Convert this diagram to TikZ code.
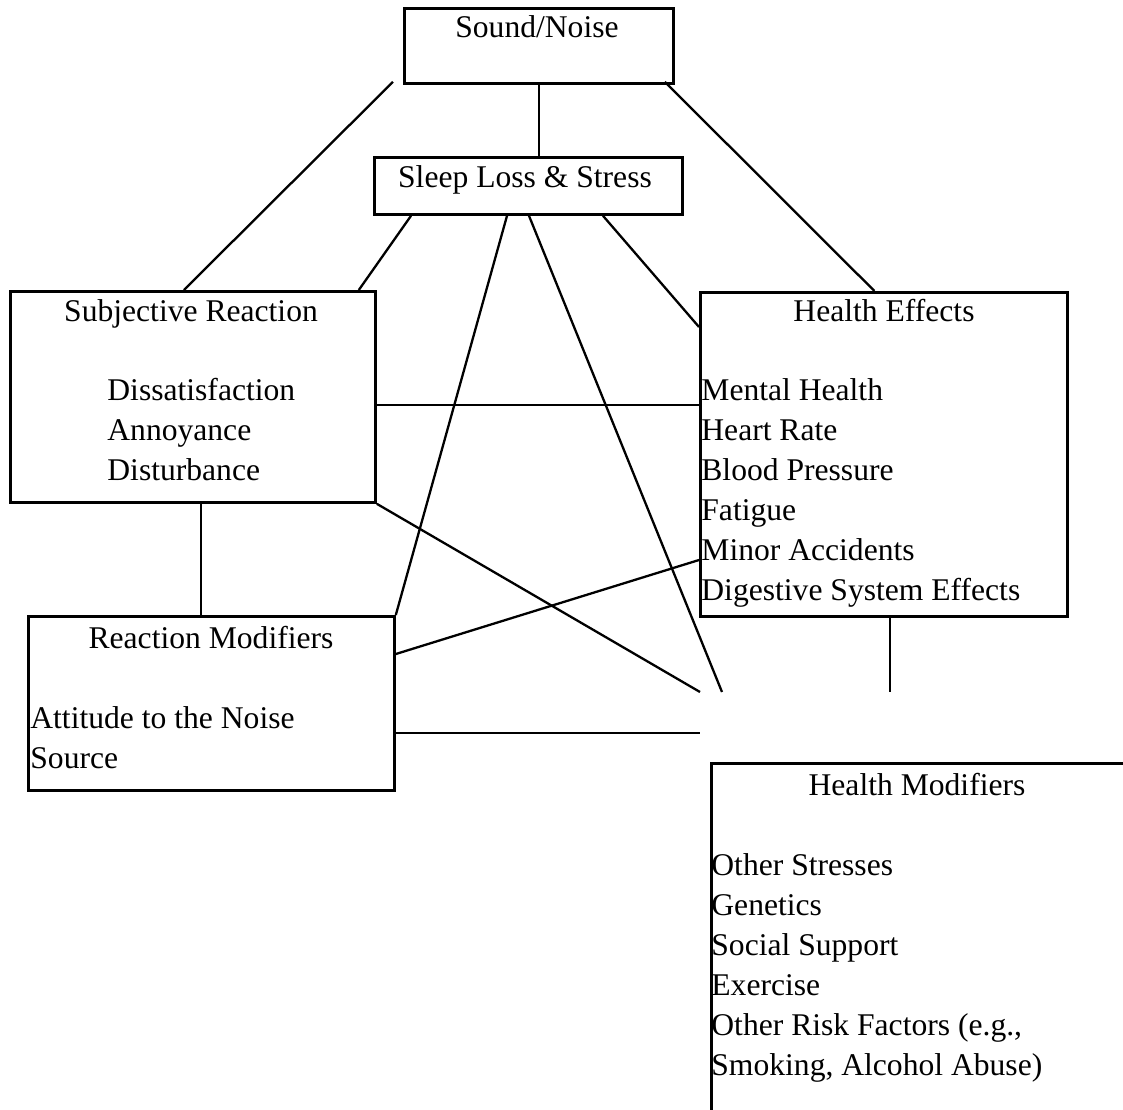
\documentclass[tikz,border=0pt]{standalone}
\usepackage{fontspec}
\setmainfont{Liberation Serif}
\usetikzlibrary{calc}
\tikzset{
    box/.style={
        draw,
        line width=1.4pt,
        inner sep=0pt,
        anchor=north west},
    txt/.style={
        inner sep=0pt,
        font=\fontsize{15.8}{20}\selectfont},
    title/.style={txt, anchor=base},
    item/.style={txt, anchor=base west},
    link/.style={line width=1.15pt}}
\begin{document}
\begin{tikzpicture}[x=0.5pt,y=-0.5pt]
        \useasboundingbox (0,0) rectangle (1123,1109);

        % boxes
        \node[box, minimum width=134.5pt, minimum height=37.5pt] (snd) at (403,7) {};
        \node[box, minimum width=154pt, minimum height=28.5pt] (sls) at (373,156) {};
        \node[box, minimum width=182.5pt, minimum height=105.5pt] (sr) at (9,290) {};
        \node[box, minimum width=183.5pt, minimum height=162pt] (he) at (699,291) {};
        \node[box, minimum width=183pt, minimum height=87pt] (rm) at (27,615) {};
        \node[box, minimum width=215pt, minimum height=185pt] (hm) at (710,762) {};

        % titles
        \node[title] (sndT) at (537,37) {Sound/Noise};
        \node[title] (slsT) at (525,187) {Sleep Loss \& Stress};
        \node[title] (srT) at (191,321) {Subjective Reaction};
        \node[title] (heT) at (884,321) {Health Effects};
        \node[title] (rmT) at (211,648) {Reaction Modifiers};
        \node[title] (hmT) at (917,795) {Health Modifiers};

        % lists
        \foreach \t [count=\i] in {Dissatisfaction, Annoyance, Disturbance}
            \node[item] (sr\i) at (107,360+40*\i) {\t};
        \foreach \t [count=\i] in {Mental Health, Heart Rate, Blood Pressure, Fatigue, Minor Accidents, Digestive System Effects}
            \node[item] (he\i) at (701,360+40*\i) {\t};
        \foreach \t [count=\i] in {Attitude to the Noise, Source}
            \node[item] (rm\i) at (30,688+40*\i) {\t};
        \foreach \t [count=\i] in {Other Stresses, Genetics, Social Support, Exercise, {Other Risk Factors (e.g.,}, {Smoking, Alcohol Abuse)}}
            \node[item] (hm\i) at (711,835+40*\i) {\t};

        % loose ends
        \coordinate (endA) at (700,692);
        \coordinate (endB) at (722,692);
        \coordinate (endC) at (700,733);
        \coordinate (endD) at (890,692);

        % connectors
        \draw[link] (snd.south) -- (snd.south |- sls.north);
        \draw[link] ($(snd.south west)+(-10,-3)$) -- ($(sr.north)+(-9,0)$);
        \draw[link] ($(snd.south east)+(-10,-3)$) -- ($(he.north)+(-9.5,0)$);
        \draw[link] ($(sls.south west)+(38,0)$) -- ($(sr.north east)+(-18,0)$);
        \draw[link] ($(sls.south west)+(134,0)$) -- (rm.north east);
        \draw[link] ($(sls.south west)+(156,0)$) -- (endB);
        \draw[link] ($(sls.south west)+(230,0)$) -- ($(he.north west)+(0,36)$);
        \draw[link] ($(sr.north east)+(0,115)$) coordinate (srR) -- (srR -| he.west);
        \draw[link] (sr.south east) -- (endA);
        \draw[link] ($(sr.south west)+(192,0)$) coordinate (srB) -- (srB |- rm.north);
        \draw[link] ($(rm.north east)+(0,39)$) -- ($(he.north west)+(0,269)$);
        \draw[link] ($(rm.north east)+(0,118)$) -- (endC);
        \draw[link] ($(he.south west)+(191,0)$) -- (endD);
    \end{tikzpicture}
\end{document}
